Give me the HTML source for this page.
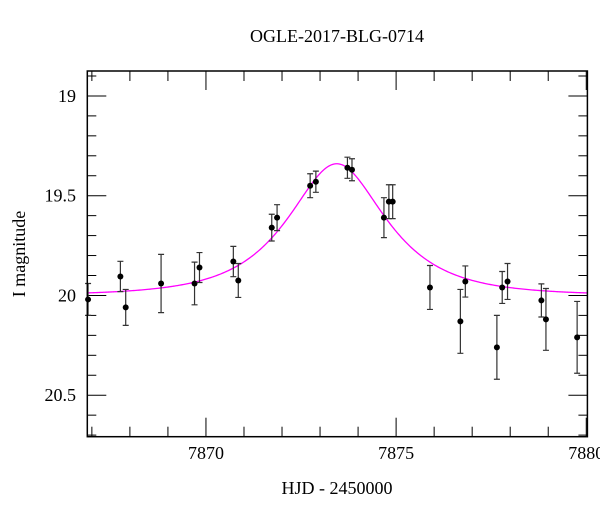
<!DOCTYPE html>
<html><head><meta charset="utf-8"><style>
body{margin:0;background:#fff}
svg text{font-family:"Liberation Serif",serif;fill:#000}
</style></head><body>
<svg id="chart" width="600" height="512" xmlns="http://www.w3.org/2000/svg">
<rect width="600" height="512" fill="#fff"/>
<text x="337" y="42" text-anchor="middle" font-size="18">OGLE-2017-BLG-0714</text>
<text x="337" y="494" text-anchor="middle" font-size="18">HJD - 2450000</text>
<text transform="translate(25,254) rotate(-90)" text-anchor="middle" font-size="18">I magnitude</text>
<g id="ticks"></g>
<g id="model"></g>
<g id="points"></g>
<rect x="87.3" y="71" width="500.1" height="365.7" fill="none" stroke="#000" stroke-width="1.5"/>
</svg>
<script>
const times=[7866.9,7867.75,7867.89,7868.82,7869.70,7869.83,7870.72,7870.85,7871.73,7871.87,7872.74,7872.89,7873.72,7873.84,7874.68,7874.81,7874.91,7875.89,7876.69,7876.82,7877.65,7877.79,7877.93,7878.82,7878.94,7879.76];
const mags=[20.02,19.905,20.06,19.94,19.94,19.86,19.83,19.925,19.66,19.61,19.45,19.43,19.36,19.37,19.61,19.53,19.53,19.96,20.13,19.93,20.26,19.96,19.93,20.025,20.12,20.21];
const errs=[0.08,0.076,0.09,0.146,0.107,0.075,0.076,0.085,0.067,0.065,0.06,0.053,0.053,0.055,0.1,0.085,0.085,0.11,0.16,0.078,0.16,0.08,0.09,0.083,0.155,0.18];
const xTickLabels=[7870,7875,7880];
const yTickLabels=[19,19.5,20,20.5];
const model={t0:7873.44,tE:2.0,u0:0.62,base:20.0};
const X0=87.3,X1=587.4,Y0=71,Y1=436.7,T0=7866.88,T1=7880.03,M0=18.875,M1=20.708;
const sx=t=>X0+(t-T0)/(T1-T0)*(X1-X0);
const sy=m=>Y0+(m-M0)/(M1-M0)*(Y1-Y0);
const NS="http://www.w3.org/2000/svg";
function mk(tag,attrs,parent){const e=document.createElementNS(NS,tag);for(const k in attrs)e.setAttribute(k,attrs[k]);parent.appendChild(e);return e;}
const tg=document.getElementById('ticks');
for(let d=7867;d<=7880;d++){
  const x=sx(d),maj=d%5===0,L=maj?19:10;
  const t1=mk('line',{x1:x,y1:Y1,x2:x,y2:Y1-L,stroke:'#000','stroke-width':1},tg);
  
  
  const t2=mk('line',{x1:x,y1:Y0,x2:x,y2:Y0+L,stroke:'#000','stroke-width':1},tg);
  
  
}
xTickLabels.forEach(v=>{
  const t=mk('text',{x:sx(v),y:459,'text-anchor':'middle','font-size':18},tg);
  t.textContent=v;
  
  
});
for(let i=19;i<=207;i++){
  const m=i/10; if(m<M0||m>M1) continue;
  const y=sy(m),maj=i%5===0,L=maj?19:9;
  const a=mk('line',{x1:X0,y1:y,x2:X0+L,y2:y,stroke:'#000','stroke-width':1},tg);
  
  
  const b=mk('line',{x1:X1,y1:y,x2:X1-L,y2:y,stroke:'#000','stroke-width':1},tg);
  
  
}
yTickLabels.forEach(v=>{
  const t=mk('text',{x:76,y:sy(v)+6,'text-anchor':'end','font-size':18},tg);
  t.textContent=v;
  
  
});
function magAt(t){const tau=(t-model.t0)/model.tE;const u=Math.sqrt(tau*tau+model.u0*model.u0);const A=(u*u+2)/(u*Math.sqrt(u*u+4));return model.base-2.5*Math.log10(A);}
let d='';
for(let i=0;i<=400;i++){const t=T0+(T1-T0)*i/400;d+=(i?'L':'M')+sx(t).toFixed(2)+','+sy(magAt(t)).toFixed(2);}
const mp=mk('path',{d:d,fill:'none',stroke:'#ff00ff','stroke-width':1.3},document.getElementById('model'));


const pg=document.getElementById('points');
times.forEach((t,i)=>{
  const x=sx(t),y=sy(mags[i]),ya=sy(mags[i]-errs[i]),yb=sy(mags[i]+errs[i]);
  const g=mk('g',{},pg);
  
  
  const e=mk('path',{d:`M${x},${ya}L${x},${yb}M${x-3},${ya}L${x+3},${ya}M${x-3},${yb}L${x+3},${yb}`,stroke:'#333','stroke-width':1.2,fill:'none'},g);
  
  
  const c=mk('circle',{cx:x,cy:y,r:3,fill:'#000'},g);
  
  
});
</script>
</body></html>
